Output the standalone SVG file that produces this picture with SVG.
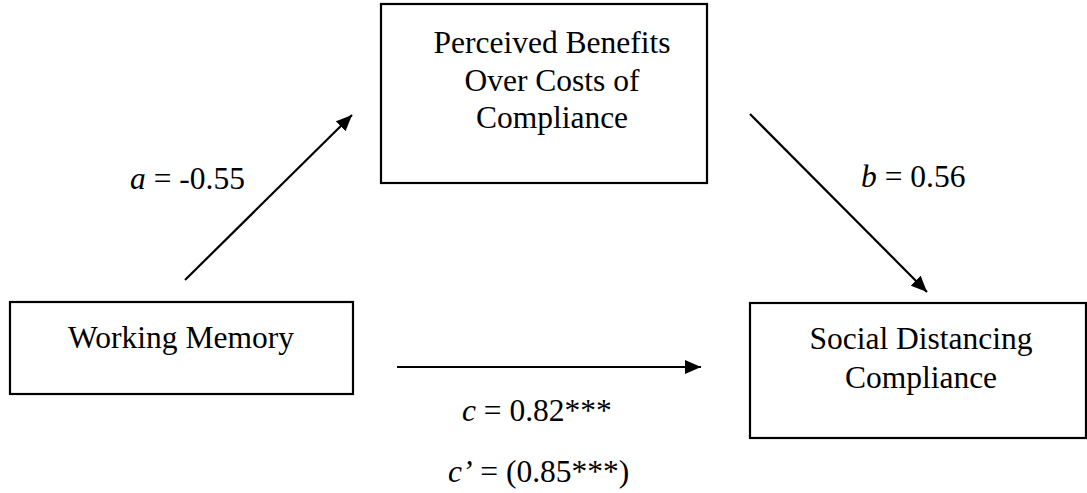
<svg xmlns="http://www.w3.org/2000/svg" width="1087" height="493" viewBox="0 0 1087 493">
<style>
.box{fill:#fff;stroke:#000;stroke-width:2.2}
.t{font-family:"Liberation Serif","Times New Roman",serif;font-size:31.5px;fill:#000}
.c{text-anchor:middle}
.ln{stroke:#000;stroke-width:2.2;fill:none}
</style>
<defs>
<marker id="ah" markerWidth="16" markerHeight="14" refX="16" refY="7" orient="auto" markerUnits="userSpaceOnUse">
<path d="M0,0 L16,7 L0,14 Z" fill="#000"/>
</marker>
</defs>
<rect width="1087" height="493" fill="#fff"/>
<g id="node-benefits">
<rect class="box" x="381" y="4" width="326" height="179"/>
<text class="t c" x="552" y="53">Perceived Benefits</text>
<text class="t c" x="552" y="91">Over Costs of</text>
<text class="t c" x="552" y="128">Compliance</text>
</g>
<g id="node-wm">
<rect class="box" x="10" y="302" width="343" height="92"/>
<text class="t c" x="181" y="348">Working Memory</text>
</g>
<g id="node-sdc">
<rect class="box" x="750" y="303" width="336" height="135"/>
<text class="t c" x="921" y="349">Social Distancing</text>
<text class="t c" x="921" y="388">Compliance</text>
</g>
<g id="connectors">
<line class="ln" x1="185" y1="280" x2="352" y2="115" marker-end="url(#ah)"/>
<line class="ln" x1="750" y1="114" x2="927" y2="292" marker-end="url(#ah)"/>
<line class="ln" x1="397" y1="367" x2="701" y2="367" marker-end="url(#ah)"/>
</g>
<g id="labels">
<text class="t" x="130" y="189"><tspan font-style="italic">a</tspan> = -0.55</text>
<text class="t" x="861" y="187"><tspan font-style="italic">b</tspan> = 0.56</text>
<text class="t" x="462" y="421"><tspan font-style="italic">c</tspan> = 0.82***</text>
<text class="t" x="448" y="482"><tspan font-style="italic">c’</tspan> = (0.85***)</text>
</g>
</svg>
